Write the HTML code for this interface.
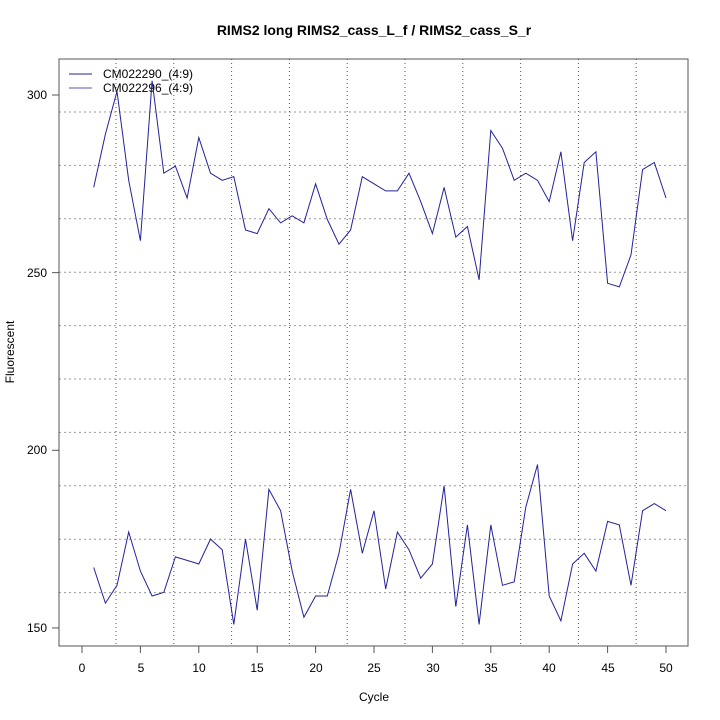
<!DOCTYPE html>
<html><head><meta charset="utf-8"><style>body{margin:0;background:#fff}svg{display:block}text{font-family:"Liberation Sans",sans-serif;fill:#000}</style></head>
<body>
<svg id="s" width="720" height="720" xmlns="http://www.w3.org/2000/svg">
<rect width="720" height="720" fill="#fff"/>
<text x="374" y="35" font-size="14" font-weight="bold" text-anchor="middle">RIMS2 long RIMS2_cass_L_f / RIMS2_cass_S_r</text>
<g id="grid" stroke="#999" stroke-width="1" stroke-dasharray="2,3"></g>
<g id="vgrid" stroke="#555" stroke-width="1" stroke-dasharray="1,3"></g>
<rect x="59" y="59" width="629" height="587" fill="none" stroke="#555" stroke-width="1"/>
<g id="ticks" stroke="#555"></g>
<g id="labels" font-size="12">
<text x="47" y="99" text-anchor="end">300</text>
<text x="47" y="277" text-anchor="end">250</text>
<text x="47" y="454" text-anchor="end">200</text>
<text x="47" y="632" text-anchor="end">150</text>
<text x="82" y="672" text-anchor="middle">0</text>
<text x="141" y="672" text-anchor="middle">5</text>
<text x="199" y="672" text-anchor="middle">10</text>
<text x="257" y="672" text-anchor="middle">15</text>
<text x="316" y="672" text-anchor="middle">20</text>
<text x="374" y="672" text-anchor="middle">25</text>
<text x="433" y="672" text-anchor="middle">30</text>
<text x="491" y="672" text-anchor="middle">35</text>
<text x="549" y="672" text-anchor="middle">40</text>
<text x="608" y="672" text-anchor="middle">45</text>
<text x="666" y="672" text-anchor="middle">50</text>
<text x="374" y="701" text-anchor="middle">Cycle</text>
<text transform="translate(14,352) rotate(-90)" text-anchor="middle">Fluorescent</text>
<text x="103" y="78">CM022290_(4:9)</text>
<text x="103" y="92">CM022296_(4:9)</text>
</g>
<line x1="69" y1="74" x2="92" y2="74" stroke="#22229a"/>
<line x1="69" y1="88" x2="92" y2="88" stroke="#5555bb"/>
<polyline id="p1" fill="none" stroke="#22229a" stroke-width="1"/>
<polyline id="p2" fill="none" stroke="#22229a" stroke-width="1"/>
</svg>
<script>
var ns="http://www.w3.org/2000/svg";
function L(g,x1,y1,x2,y2){var l=document.createElementNS(ns,"line");l.setAttribute("x1",x1);l.setAttribute("y1",y1);l.setAttribute("x2",x2);l.setAttribute("y2",y2);document.getElementById(g).appendChild(l);}
for(var i=0;i<10;i++){var y=112+i*53.4;L("grid",59,y,688,y);}
for(var i=0;i<10;i++){var x=116+i*57.8;L("vgrid",x,59,x,646);}
var X=function(c){return 82+c*11.68;},Y=function(v){return 95+(300-v)*3.553;};
for(var c=0;c<=50;c+=5)L("ticks",X(c),646,X(c),653);
[150,200,250,300].forEach(function(v){L("ticks",52,Y(v),59,Y(v));});
var a=[274,289,301,276,259,304,278,280,271,288,278,276,277,262,261,268,264,266,264,275,265,258,262,277,275,273,273,278,270,261,274,260,263,248,290,285,276,278,276,270,284,259,281,284,247,246,255,279,281,271];
var b=[167,157,162,177,166,159,160,170,169,168,175,172,151,175,155,189,183,166,153,159,159,171,189,171,183,161,177,172,164,168,190,156,179,151,179,162,163,184,196,159,152,168,171,166,180,179,162,183,185,183];
function P(d){return d.map(function(v,i){return X(i+1).toFixed(1)+","+Y(v).toFixed(1)}).join(" ");}
document.getElementById("p1").setAttribute("points",P(a));
document.getElementById("p2").setAttribute("points",P(b));
</script>
</body></html>
